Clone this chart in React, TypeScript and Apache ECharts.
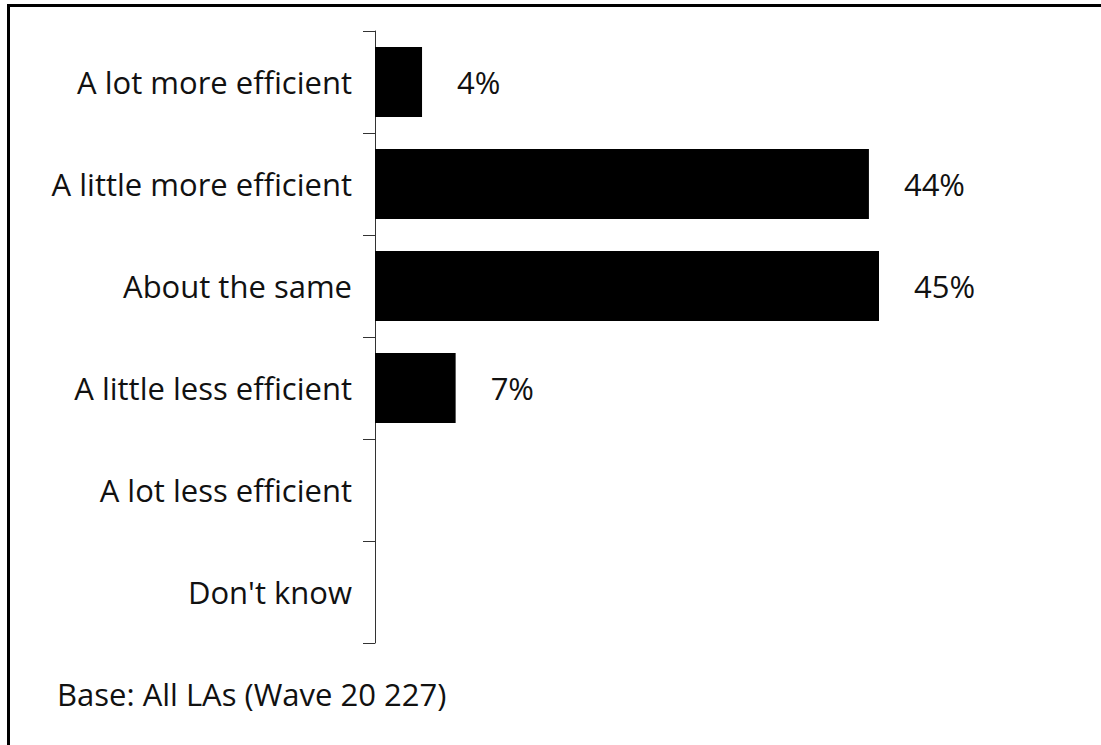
import React, { useEffect, useRef } from "react";
import * as echarts from "echarts";

const categories = [
  "A lot more efficient",
  "A little more efficient",
  "About the same",
  "A little less efficient",
  "A lot less efficient",
  "Don't know",
];
const values = [4.2, 44.1, 45, 7.2, null, null];
const valueLabels = ["4%", "44%", "45%", "7%", "", ""];
const baseNote = "Base: All LAs (Wave 20 227)";

const FONT = "'Open Sans', 'Noto Sans', sans-serif";
const FS = 31;

export default function App() {
  const ref = useRef<HTMLDivElement>(null);
  useEffect(() => {
    if (!ref.current) return;
    const chart = echarts.init(ref.current, undefined, { renderer: "svg" });
    chart.setOption({
      animation: false,
      backgroundColor: "#ffffff",
      grid: { left: 375, top: 31, bottom: 102, right: 54, containLabel: false },
      xAxis: {
        type: "value",
        min: 0,
        max: 60,
        show: false,
      },
      yAxis: {
        type: "category",
        data: categories,
        inverse: true,
        axisLine: { show: true, lineStyle: { color: "#333333", width: 1 } },
        axisTick: { show: true, length: 12, lineStyle: { color: "#333333", width: 1 } },
        axisLabel: {
          margin: 23,
          color: "#111111",
          fontSize: FS,
          fontFamily: FONT,
        },
        splitLine: { show: false },
      },
      series: [
        {
          type: "bar",
          data: values,
          barWidth: 70,
          itemStyle: { color: "#000000" },
          label: {
            show: true,
            position: "right",
            distance: 35,
            color: "#111111",
            fontSize: FS,
            fontFamily: FONT,
            formatter: (p: any) => valueLabels[p.dataIndex] || "",
          },
        },
      ],
      graphic: [
        {
          type: "rect",
          shape: { x: 8.5, y: 5.5, width: 1300, height: 1000 },
          style: { fill: "none", stroke: "#000000", lineWidth: 3 },
          silent: true,
        },
        {
          type: "text",
          left: 57,
          top: 678,
          style: { text: baseNote, fontSize: FS, fontFamily: FONT, fill: "#111111" },
        },
      ],
    });
    return () => chart.dispose();
  }, []);
  return (
    <div
      ref={ref}
      style={{ position: "absolute", left: 0, top: 0, width: 1101, height: 745 }}
    />
  );
}
